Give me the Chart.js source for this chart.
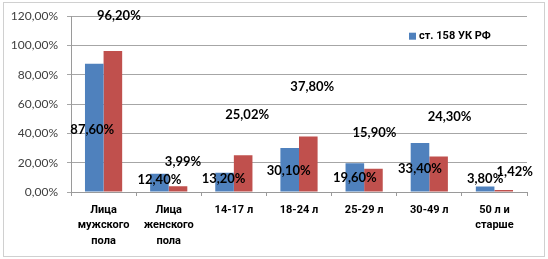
<!DOCTYPE html>
<html>
<head>
<meta charset="utf-8">
<script src="https://cdn.jsdelivr.net/npm/chart.js@4/dist/chart.umd.min.js"></script>
<style>
    html, body { margin: 0; padding: 0; background: #fff; }
    #wrap { width: 548px; height: 259px; position: relative; }
</style>
</head>
<body>
<div id="wrap"><canvas id="crimeChart"></canvas></div>
<script>
const categories = [
    ['Лица', 'мужского', 'пола'],
    ['Лица', 'женского', 'пола'],
    '14-17 л',
    '18-24 л',
    '25-29 л',
    '30-49 л',
    ['50 л и', 'старше']
];
const seriesName = 'ст. 158 УК РФ';
const blueValues = [87.60, 12.40, 13.20, 30.10, 19.60, 33.40, 3.80];
const redValues = [96.20, 3.99, 25.02, 37.80, 15.90, 24.30, 1.42];
const yMax = 120;
const yStep = 20;

const fmtPct = v => v.toFixed(2).replace('.', ',') + '%';

// подписи данных сдвинуты вручную, как в исходной диаграмме (dx, dy от верха столбца)
const labelShift = [
    [[-2, 66], [0, 6], [-1, 6], [-1, 23], [0, 15], [0, 26], [0, -8]],
    [[6, -35], [5, -24], [4, -41], [4, -50], [1, -36], [11, -40], [11, -18]]
];

const frame = {
    id: 'frame',
    beforeDraw(chart) {
        const ctx = chart.ctx;
        ctx.save();
        ctx.fillStyle = '#fff';
        ctx.fillRect(0, 0, chart.width, chart.height);
        ctx.strokeStyle = '#d0d0d0';
        ctx.lineWidth = 1;
        ctx.strokeRect(3.5, 2.5, chart.width - 7, chart.height - 5);
        ctx.restore();
    }
};

const dataLabels = {
    id: 'dataLabels',
    afterDatasetsDraw(chart) {
        const ctx = chart.ctx;
        ctx.save();
        ctx.font = 'bold 13px Lato';
        ctx.fillStyle = '#000';
        ctx.textAlign = 'center';
        ctx.textBaseline = 'middle';
        chart.data.datasets.forEach((ds, i) => {
            chart.getDatasetMeta(i).data.forEach((bar, j) => {
                const s = labelShift[i][j];
                ctx.fillText(fmtPct(ds.data[j]), bar.x + s[0], bar.y + s[1]);
            });
        });
        ctx.restore();
    }
};

const legendBox = {
    id: 'legendBox',
    afterDraw(chart) {
        const ctx = chart.ctx;
        const area = chart.chartArea;
        const ds = chart.data.datasets[0];
        const x = area.right - 118;
        const y = area.top + 20;
        ctx.save();
        ctx.fillStyle = ds.backgroundColor;
        ctx.fillRect(x, y - 3.5, 7, 7);
        ctx.font = 'bold 11px Roboto';
        ctx.fillStyle = '#000';
        ctx.textBaseline = 'middle';
        ctx.fillText(ds.label, x + 10, y);
        ctx.restore();
    }
};

new Chart(document.getElementById('crimeChart'), {
    type: 'bar',
    data: {
        labels: categories,
        datasets: [
            {
                label: seriesName,
                data: blueValues,
                backgroundColor: '#4F81BD'
            },
            {
                label: '',
                data: redValues,
                backgroundColor: '#C0504D'
            }
        ]
    },
    options: {
        responsive: true,
        maintainAspectRatio: false,
        animation: false,
        layout: { padding: { top: 13, right: 21, left: 0, bottom: 0 } },
        datasets: {
            bar: { categoryPercentage: 0.571, barPercentage: 1.0 }
        },
        plugins: {
            legend: { display: false },
            tooltip: { enabled: false }
        },
        scales: {
            x: {
                afterFit(scale) { scale.height = 67; },
                grid: {
                    drawOnChartArea: false,
                    offset: true,
                    tickLength: 4,
                    color: '#9a9a9a'
                },
                border: { color: '#9a9a9a' },
                ticks: {
                    padding: 6,
                    maxRotation: 0,
                    autoSkip: false,
                    color: '#000',
                    font: { family: 'Roboto', size: 11, weight: 'bold', lineHeight: 1.42 }
                }
            },
            y: {
                min: 0,
                max: yMax,
                afterFit(scale) { scale.width = 71; },
                grid: { color: '#a6a6a6', tickLength: 4 },
                border: { color: '#9a9a9a' },
                ticks: {
                    stepSize: yStep,
                    padding: 9,
                    color: '#404040',
                    font: { family: 'Lato', size: 12 },
                    callback: v => fmtPct(v)
                }
            }
        }
    },
    plugins: [frame, dataLabels, legendBox]
});
</script>
</body>
</html>
